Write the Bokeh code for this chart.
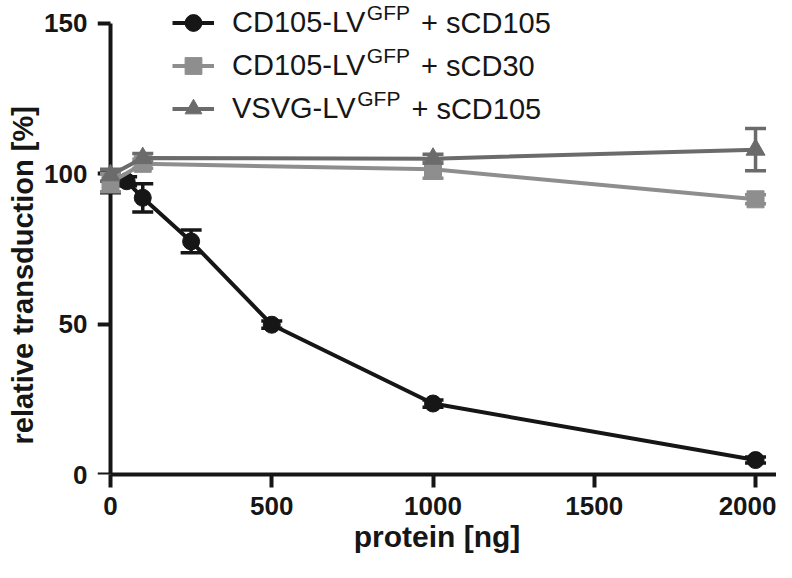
from bokeh.plotting import figure
from bokeh.models import (ColumnDataSource, Range1d, FixedTicker, Whisker, TeeHead,
                          Legend, LegendItem, Label, LinearAxis, Title)
from bokeh.embed import file_html
from bokeh.resources import INLINE

# ---------------- data ----------------
protein_cd105 = [0, 50, 100, 250, 500, 1000, 2000]
trans_cd105 = [97.5, 97.5, 92.0, 77.5, 49.8, 23.6, 4.8]
sem_cd105 = [3.8, 1.5, 4.7, 3.8, 1.2, 1.2, 1.0]

protein_cd30 = [0, 100, 1000, 2000]
trans_cd30 = [97.0, 103.3, 101.5, 91.5]
sem_cd30 = [3.0, 1.5, 3.0, 1.5]

protein_vsvg = [0, 100, 1000, 2000]
trans_vsvg = [99.5, 105.2, 105.0, 108.0]
sem_vsvg = [2.0, 1.5, 1.5, 7.0]

x_ticks = [0, 500, 1000, 1500, 2000]
y_ticks = [0, 50, 100, 150]

series_main = ["CD105-LV", "CD105-LV", "VSVG-LV"]
series_sup = ["GFP", "GFP", "GFP"]
series_suffix = ["+ sCD105", "+ sCD30", "+ sCD105"]

x_label = "protein [ng]"
y_label = "relative transduction [%]"

# ---------------- styles ----------------
INK = "#161616"
COLORS = ["#161616", "#8e8e8e", "#6b6b6b"]
MARKERS = ["circle", "square", "triangle"]
MSIZES = [17, 17, 19]
FONT = "Liberation Sans"

FRAME_LEFT = 97
FRAME_BOTTOM = 474          # canvas y of the frame bottom (y = 0)
FRAME_BOTTOM_PANEL = 562 - FRAME_BOTTOM

p = figure(width=776, height=562, output_backend="svg", toolbar_location=None,
           x_range=Range1d(-40.3, 2065), y_range=Range1d(0, 157.6),
           min_border_left=FRAME_LEFT, min_border_right=0, min_border_top=0,
           min_border_bottom=FRAME_BOTTOM_PANEL)
p.outline_line_color = None
p.grid.visible = False
p.background_fill_color = "white"
p.border_fill_color = "white"


def style_axis(ax):
    ax.axis_line_width = 4
    ax.axis_line_color = INK
    ax.major_tick_line_width = 4
    ax.major_tick_line_color = INK
    ax.major_tick_in = 0
    ax.major_tick_out = 13
    ax.minor_tick_line_color = None
    ax.major_label_text_font = FONT
    ax.major_label_text_font_style = "bold"
    ax.major_label_text_font_size = "26px"
    ax.major_label_text_color = INK
    ax.axis_label_text_font = FONT
    ax.axis_label_text_font_style = "bold"
    ax.axis_label_text_font_size = "30px"
    ax.axis_label_text_color = INK


# x axis
xax = p.xaxis[0]
style_axis(xax)
xax.ticker = FixedTicker(ticks=x_ticks)
xax.bounds = (0, 2105)
xax.major_label_standoff = 9
xax.axis_label_standoff = 2
xax.axis_label = x_label

# y axis: tick labels at the frame edge ...
yax = p.yaxis[0]
style_axis(yax)
yax.ticker = FixedTicker(ticks=y_ticks)
yax.bounds = (0, 150)
yax.axis_line_color = None
yax.major_tick_line_color = None
yax.major_tick_out = 0
yax.major_label_standoff = 10

# ... its rule + ticks placed at x = 0 (drawn beneath the markers)
yrule = LinearAxis(ticker=FixedTicker(ticks=y_ticks), bounds=(0, 150), fixed_location=0)
style_axis(yrule)
yrule.major_label_text_color = None
yrule.level = "underlay"
p.add_layout(yrule, "left")

# y axis title, starting 30 px above the frame bottom like the reference
p.add_layout(Title(text=y_label, align="left", offset=30, standoff=6,
                   text_font=FONT, text_font_style="bold", text_font_size="29px",
                   text_color=INK), "left")

datasets = [(protein_cd105, trans_cd105, sem_cd105),
            (protein_cd30, trans_cd30, sem_cd30),
            (protein_vsvg, trans_vsvg, sem_vsvg)]

items = []
for i, (xs, ys, es) in enumerate(datasets):
    c = COLORS[i]
    src = ColumnDataSource(dict(x=xs, y=ys,
                                upper=[y + e for y, e in zip(ys, es)],
                                lower=[y - e for y, e in zip(ys, es)]))
    w = Whisker(source=src, base="x", upper="upper", lower="lower",
                dimension="height", line_color=c, line_width=3.5,
                upper_head=TeeHead(size=21, line_color=c, line_width=3.5),
                lower_head=TeeHead(size=21, line_color=c, line_width=3.5),
                level="underlay")
    p.add_layout(w)
    lr = p.line("x", "y", source=src, line_color=c, line_width=4)
    sr = p.scatter("x", "y", source=src, marker=MARKERS[i], size=MSIZES[i],
                   fill_color=c, line_color=c, line_width=1)
    items.append(LegendItem(label=series_main[i], renderers=[lr, sr]))

ROW = 43
FIRST_ROW = 22
LEG_X = 172 - FRAME_LEFT
LEG_BOTTOM = FRAME_BOTTOM - (FIRST_ROW - ROW / 2 + 3 * ROW)
legend = Legend(items=items, location=(LEG_X, LEG_BOTTOM), padding=0, margin=0,
                spacing=0, glyph_width=42, glyph_height=ROW, label_height=ROW,
                label_standoff=18, label_text_font=FONT, label_text_font_size="29px",
                label_text_color=INK, label_text_baseline="middle",
                border_line_color=None, background_fill_alpha=0)
p.add_layout(legend)

# superscript + suffix of each legend entry
ARIAL = {"C": 0.722, "D": 0.722, "1": 0.556, "0": 0.556, "5": 0.556, "-": 0.333,
         "L": 0.556, "V": 0.667, "S": 0.667, "G": 0.778, "F": 0.611, "P": 0.667}


def tw(s, size):
    return sum(ARIAL.get(ch, 0.6) for ch in s) * size


text_x0 = LEG_X + 42 + 18
legend_top = LEG_BOTTOM + 3 * ROW
for i in range(3):
    row_y = legend_top - ROW / 2 - ROW * i
    sx = text_x0 + tw(series_main[i], 29) - 1
    p.add_layout(Label(x=sx, y=row_y + 10, x_units="screen", y_units="screen",
                       text=series_sup[i], text_font=FONT, text_font_size="21px",
                       text_color=INK, text_baseline="middle", text_align="left"))
    px = sx + tw(series_sup[i], 21) + 11
    p.add_layout(Label(x=px, y=row_y, x_units="screen", y_units="screen",
                       text=series_suffix[i], text_font=FONT, text_font_size="29px",
                       text_color=INK, text_baseline="middle", text_align="left"))

open("out.html", "w").write(file_html(p, INLINE))
